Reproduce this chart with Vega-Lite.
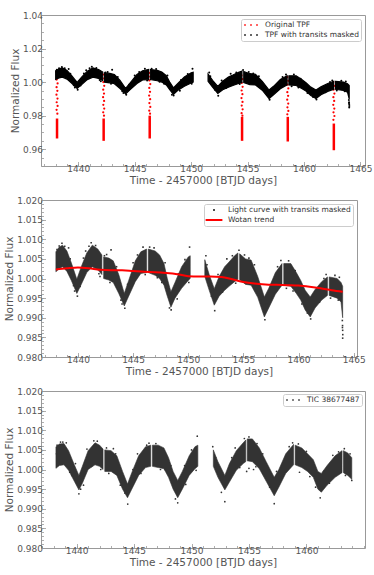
{
"$schema": "https://vega.github.io/schema/vega-lite/v6.json",
"padding": {"left": 4, "top": 10, "right": 2, "bottom": 2},
"background": "white",
"config": {
 "font": "DejaVu Sans",
 "view": {"stroke": "#999999", "strokeWidth": 1},
 "axis": {"labelFont": "DejaVu Sans", "labelFontSize": 9, "labelColor": "#555555", "titleFont": "DejaVu Sans", "titleFontSize": 10.5, "titleColor": "#555555", "titleFontWeight": "normal", "grid": false, "domain": false, "tickColor": "#999999", "tickSize": -4.5, "tickWidth": 0.8, "labelPadding": 3, "titlePadding": 2, "labelFlush": false, "labelOverlap": false},
 "legend": {"labelFont": "DejaVu Sans", "labelFontSize": 7.5, "labelColor": "#333333", "fillColor": "white", "strokeColor": "#cccccc", "cornerRadius": 2, "padding": 2, "rowPadding": 2, "symbolStrokeWidth": 0, "symbolSize": 64, "labelOffset": 10, "symbolOffset": 4, "orient": "top-right", "offset": 4}
},
"datasets": {
 "lc": [
  {"t":1438.0,"hi":1.0068,"lo":1.0017,"s":"1"},{"t":1438.3,"hi":1.0080,"lo":1.0025,"s":"1"},{"t":1438.6,"hi":1.0085,"lo":1.0030,"s":"1"},{"t":1439.0,"hi":1.0070,"lo":1.0018,"s":"1"},{"t":1439.4,"hi":1.0040,"lo":0.9995,"s":"1"},{"t":1439.9,"hi":0.9998,"lo":0.9962,"s":"1"},{"t":1440.3,"hi":1.0030,"lo":0.9985,"s":"1"},{"t":1440.8,"hi":1.0065,"lo":1.0015,"s":"1"},{"t":1441.3,"hi":1.0085,"lo":1.0030,"s":"1"},{"t":1441.8,"hi":1.0075,"lo":1.0022,"s":"1"},{"t":1442.17,"hi":1.0060,"lo":1.0010,"s":"1"},
  {"t":1442.33,"hi":1.0055,"lo":1.0000,"s":"2"},{"t":1442.8,"hi":1.0052,"lo":0.9996,"s":"2"},{"t":1443.2,"hi":1.0045,"lo":0.9990,"s":"2"},{"t":1443.7,"hi":1.0010,"lo":0.9962,"s":"2"},{"t":1444.2,"hi":0.9962,"lo":0.9930,"s":"2"},{"t":1444.6,"hi":0.9995,"lo":0.9955,"s":"2"},{"t":1445.2,"hi":1.0045,"lo":0.9992,"s":"2"},{"t":1445.7,"hi":1.0068,"lo":1.0013,"s":"2"},{"t":1446.22,"hi":1.0075,"lo":1.0015,"s":"2"},
  {"t":1446.38,"hi":1.0075,"lo":1.0015,"s":"3"},{"t":1447.0,"hi":1.0070,"lo":1.0008,"s":"3"},{"t":1447.4,"hi":1.0060,"lo":1.0000,"s":"3"},{"t":1447.8,"hi":1.0038,"lo":0.9983,"s":"3"},{"t":1448.1,"hi":1.0000,"lo":0.9955,"s":"3"},{"t":1448.43,"hi":0.9966,"lo":0.9927,"s":"3"},{"t":1448.8,"hi":0.9990,"lo":0.9950,"s":"3"},{"t":1449.4,"hi":1.0030,"lo":0.9975,"s":"3"},{"t":1450.0,"hi":1.0055,"lo":0.9995,"s":"3"},{"t":1450.18,"hi":1.0058,"lo":1.0000,"s":"3"},
  {"t":1451.5,"hi":1.0048,"lo":1.0005,"s":"4"},{"t":1451.9,"hi":1.0010,"lo":0.9970,"s":"4"},{"t":1452.36,"hi":0.9974,"lo":0.9932,"s":"4"},{"t":1452.8,"hi":1.0005,"lo":0.9955,"s":"4"},{"t":1453.3,"hi":1.0030,"lo":0.9970,"s":"4"},{"t":1453.7,"hi":1.0042,"lo":0.9980,"s":"4"},{"t":1454.2,"hi":1.0058,"lo":0.9992,"s":"4"},{"t":1454.5,"hi":1.0065,"lo":0.9998,"s":"4"},
  {"t":1454.66,"hi":1.0063,"lo":0.9997,"s":"5"},{"t":1455.2,"hi":1.0050,"lo":0.9985,"s":"5"},{"t":1455.7,"hi":1.0047,"lo":0.9983,"s":"5"},{"t":1456.3,"hi":1.0005,"lo":0.9952,"s":"5"},{"t":1456.9,"hi":0.9953,"lo":0.9902,"s":"5"},{"t":1457.3,"hi":0.9975,"lo":0.9925,"s":"5"},{"t":1457.9,"hi":1.0015,"lo":0.9960,"s":"5"},{"t":1458.5,"hi":1.0038,"lo":0.9983,"s":"5"},
  {"t":1458.66,"hi":1.0038,"lo":0.9983,"s":"6"},{"t":1459.3,"hi":1.0038,"lo":0.9980,"s":"6"},{"t":1459.8,"hi":1.0015,"lo":0.9962,"s":"6"},{"t":1460.2,"hi":0.9995,"lo":0.9945,"s":"6"},{"t":1460.6,"hi":0.9970,"lo":0.9920,"s":"6"},{"t":1461.06,"hi":0.9953,"lo":0.9902,"s":"6"},{"t":1461.5,"hi":0.9972,"lo":0.9925,"s":"6"},{"t":1462.1,"hi":0.9992,"lo":0.9945,"s":"6"},{"t":1462.62,"hi":1.0004,"lo":0.9957,"s":"6"},
  {"t":1462.78,"hi":1.0004,"lo":0.9957,"s":"7"},{"t":1463.5,"hi":1.0000,"lo":0.9950,"s":"7"},{"t":1463.85,"hi":0.9990,"lo":0.9940,"s":"7"},{"t":1464.0,"hi":0.9980,"lo":0.9900,"s":"7"}
 ],
 "lcout": [
  {"t":1438.1,"f":1.0074},{"t":1438.55,"f":1.0090},{"t":1439.15,"f":1.0078},{"t":1439.6,"f":0.9982},{"t":1439.95,"f":0.9955},{"t":1440.5,"f":1.0052},{"t":1441.2,"f":1.0091},{"t":1441.9,"f":1.0012},{"t":1442.6,"f":1.0061},{"t":1443.0,"f":1.0073},{"t":1443.9,"f":0.9945},{"t":1444.25,"f":0.9924},{"t":1445.0,"f":1.0040},{"t":1445.9,"f":1.0080},{"t":1446.9,"f":1.0078},{"t":1447.6,"f":0.9990},{"t":1448.45,"f":0.9920},{"t":1449.0,"f":0.9948},{"t":1450.12,"f":1.0080},{"t":1451.6,"f":1.0058},{"t":1452.4,"f":0.9918},{"t":1453.5,"f":1.0050},{"t":1454.6,"f":1.0072},{"t":1455.1,"f":1.0060},{"t":1456.0,"f":1.0035},{"t":1456.95,"f":0.9895},{"t":1457.6,"f":0.9950},{"t":1458.4,"f":1.0046},{"t":1459.1,"f":1.0045},{"t":1459.5,"f":0.9968},{"t":1460.3,"f":0.9935},{"t":1461.1,"f":0.9897},{"t":1461.9,"f":0.9940},{"t":1462.5,"f":1.0010},{"t":1463.3,"f":1.0008},{"t":1463.6,"f":0.9945},{"t":1463.97,"f":0.9893},{"t":1463.99,"f":0.9880},{"t":1464.0,"f":0.9868},{"t":1464.01,"f":0.9857},{"t":1464.0,"f":0.9848},{"t":1463.98,"f":0.9875},
  {"t":1438.3,"f":1.0083},{"t":1438.8,"f":1.0082},{"t":1439.3,"f":1.0050},{"t":1439.7,"f":0.9968},{"t":1440.2,"f":0.9980},{"t":1440.7,"f":1.0070},{"t":1441.0,"f":1.0082},{"t":1441.6,"f":1.0084},{"t":1442.0,"f":1.0005},{"t":1442.4,"f":1.0058},{"t":1442.9,"f":0.9990},{"t":1443.5,"f":1.0030},{"t":1444.0,"f":0.9935},{"t":1444.5,"f":0.9985},{"t":1445.4,"f":1.0060},{"t":1446.1,"f":1.0010},{"t":1446.5,"f":1.0080},{"t":1447.2,"f":1.0002},{"t":1447.9,"f":1.0040},{"t":1448.3,"f":0.9925},{"t":1449.1,"f":1.0012},{"t":1449.7,"f":1.0048},{"t":1450.05,"f":0.9990},{"t":1451.7,"f":1.0035},{"t":1452.1,"f":0.9955},{"t":1452.7,"f":1.0010},{"t":1453.1,"f":0.9965},{"t":1454.0,"f":1.0058},{"t":1454.3,"f":0.9988},{"t":1455.5,"f":1.0052},{"t":1456.6,"f":0.9945},{"t":1457.1,"f":0.9935},{"t":1458.1,"f":1.0030},{"t":1458.9,"f":0.9975},{"t":1459.7,"f":1.0020},{"t":1460.8,"f":0.9912},{"t":1461.3,"f":0.9955},{"t":1462.3,"f":1.0000},{"t":1462.9,"f":0.9950},{"t":1463.7,"f":1.0003}
 ],
 "trend": [
  {"t":1438.0,"f":1.0023},{"t":1439.0,"f":1.0026},{"t":1440.0,"f":1.0028},{"t":1441.0,"f":1.0026},{"t":1442.0,"f":1.0022},{"t":1443.0,"f":1.0021},{"t":1444.0,"f":1.0021},{"t":1445.0,"f":1.0019},{"t":1446.0,"f":1.0017},{"t":1447.0,"f":1.0016},{"t":1448.0,"f":1.0014},{"t":1449.0,"f":1.0011},{"t":1450.0,"f":1.0006},{"t":1451.0,"f":1.0005},{"t":1452.0,"f":1.0005},{"t":1453.0,"f":1.0004},{"t":1454.0,"f":0.9998},{"t":1455.0,"f":0.9991},{"t":1456.0,"f":0.9987},{"t":1457.0,"f":0.9985},{"t":1458.0,"f":0.9984},{"t":1459.0,"f":0.9983},{"t":1460.0,"f":0.9982},{"t":1461.0,"f":0.9979},{"t":1462.0,"f":0.9975},{"t":1463.0,"f":0.9970},{"t":1464.0,"f":0.9966}
 ],
 "trc": [
  {"t":1438.12,"lo":0.9664,"hi":0.9783},{"t":1442.25,"lo":0.9650,"hi":0.9783},{"t":1446.33,"lo":0.9664,"hi":0.9800},{"t":1454.51,"lo":0.9650,"hi":0.9793},{"t":1458.56,"lo":0.9646,"hi":0.9793},{"t":1462.64,"lo":0.9594,"hi":0.9753}
 ],
 "tr": [
  {"t":1438.07,"f":1.0060},{"t":1438.16,"f":1.0038},{"t":1438.09,"f":1.0015},{"t":1438.17,"f":0.9992},{"t":1438.08,"f":0.9970},{"t":1438.15,"f":0.9948},{"t":1438.07,"f":0.9925},{"t":1438.16,"f":0.9902},{"t":1438.09,"f":0.9880},{"t":1438.17,"f":0.9858},{"t":1438.08,"f":0.9835},{"t":1438.15,"f":0.9812},
  {"t":1442.2,"f":1.0045},{"t":1442.29,"f":1.0022},{"t":1442.22,"f":1.0000},{"t":1442.3,"f":0.9978},{"t":1442.21,"f":0.9955},{"t":1442.28,"f":0.9932},{"t":1442.2,"f":0.9910},{"t":1442.29,"f":0.9888},{"t":1442.22,"f":0.9865},{"t":1442.3,"f":0.9842},{"t":1442.21,"f":0.9820},{"t":1442.28,"f":0.9800},
  {"t":1446.28,"f":1.0055},{"t":1446.37,"f":1.0032},{"t":1446.3,"f":1.0010},{"t":1446.38,"f":0.9988},{"t":1446.29,"f":0.9965},{"t":1446.36,"f":0.9942},{"t":1446.28,"f":0.9920},{"t":1446.37,"f":0.9898},{"t":1446.3,"f":0.9875},{"t":1446.38,"f":0.9852},{"t":1446.29,"f":0.9830},{"t":1446.36,"f":0.9812},
  {"t":1454.46,"f":1.0040},{"t":1454.55,"f":1.0018},{"t":1454.48,"f":0.9995},{"t":1454.56,"f":0.9972},{"t":1454.47,"f":0.9950},{"t":1454.54,"f":0.9928},{"t":1454.46,"f":0.9905},{"t":1454.55,"f":0.9882},{"t":1454.48,"f":0.9860},{"t":1454.56,"f":0.9838},{"t":1454.47,"f":0.9815},{"t":1454.54,"f":0.9800},
  {"t":1458.51,"f":1.0030},{"t":1458.6,"f":1.0008},{"t":1458.53,"f":0.9985},{"t":1458.61,"f":0.9962},{"t":1458.52,"f":0.9940},{"t":1458.59,"f":0.9918},{"t":1458.51,"f":0.9895},{"t":1458.6,"f":0.9872},{"t":1458.53,"f":0.9850},{"t":1458.61,"f":0.9828},{"t":1458.52,"f":0.9808},
  {"t":1462.59,"f":1.0000},{"t":1462.68,"f":0.9978},{"t":1462.61,"f":0.9955},{"t":1462.69,"f":0.9932},{"t":1462.6,"f":0.9910},{"t":1462.67,"f":0.9888},{"t":1462.59,"f":0.9865},{"t":1462.68,"f":0.9842},{"t":1462.61,"f":0.9820},{"t":1462.69,"f":0.9798},{"t":1462.6,"f":0.9775}
 ],
 "tic": [
  {"t":1438.2,"hi":1.0058,"lo":1.0003,"s":"1"},{"t":1438.5,"hi":1.0065,"lo":1.0010,"s":"1"},{"t":1438.9,"hi":1.0066,"lo":1.0012,"s":"1"},{"t":1439.3,"hi":1.0048,"lo":0.9998,"s":"1"},{"t":1439.8,"hi":1.0012,"lo":0.9970,"s":"1"},{"t":1440.2,"hi":0.9985,"lo":0.9948,"s":"1"},{"t":1440.5,"hi":1.0008,"lo":0.9965,"s":"1"},{"t":1441.0,"hi":1.0048,"lo":1.0000,"s":"1"},{"t":1441.6,"hi":1.0068,"lo":1.0012,"s":"1"},{"t":1442.0,"hi":1.0062,"lo":1.0008,"s":"1"},{"t":1442.3,"hi":1.0052,"lo":1.0000,"s":"1"},
  {"t":1442.45,"hi":1.0050,"lo":0.9995,"s":"2"},{"t":1443.0,"hi":1.0048,"lo":0.9995,"s":"2"},{"t":1443.5,"hi":1.0035,"lo":0.9985,"s":"2"},{"t":1444.0,"hi":0.9995,"lo":0.9950,"s":"2"},{"t":1444.43,"hi":0.9963,"lo":0.9928,"s":"2"},{"t":1444.8,"hi":0.9992,"lo":0.9950,"s":"2"},{"t":1445.4,"hi":1.0035,"lo":0.9985,"s":"2"},{"t":1446.0,"hi":1.0058,"lo":1.0005,"s":"2"},{"t":1446.45,"hi":1.0062,"lo":1.0008,"s":"2"},
  {"t":1446.6,"hi":1.0062,"lo":1.0008,"s":"3"},{"t":1447.1,"hi":1.0062,"lo":1.0005,"s":"3"},{"t":1447.6,"hi":1.0055,"lo":1.0002,"s":"3"},{"t":1448.0,"hi":1.0030,"lo":0.9980,"s":"3"},{"t":1448.4,"hi":0.9995,"lo":0.9950,"s":"3"},{"t":1448.8,"hi":0.9972,"lo":0.9928,"s":"3"},{"t":1449.2,"hi":0.9995,"lo":0.9950,"s":"3"},{"t":1449.8,"hi":1.0035,"lo":0.9985,"s":"3"},{"t":1450.3,"hi":1.0058,"lo":1.0002,"s":"3"},{"t":1450.55,"hi":1.0062,"lo":1.0008,"s":"3"},
  {"t":1451.9,"hi":1.0050,"lo":1.0008,"s":"4"},{"t":1452.3,"hi":1.0020,"lo":0.9980,"s":"4"},{"t":1452.9,"hi":0.9985,"lo":0.9948,"s":"4"},{"t":1453.3,"hi":1.0015,"lo":0.9968,"s":"4"},{"t":1453.9,"hi":1.0048,"lo":0.9998,"s":"4"},{"t":1454.5,"hi":1.0068,"lo":1.0015,"s":"4"},{"t":1454.72,"hi":1.0075,"lo":1.0020,"s":"4"},
  {"t":1454.85,"hi":1.0078,"lo":1.0022,"s":"5"},{"t":1455.3,"hi":1.0078,"lo":1.0020,"s":"5"},{"t":1455.9,"hi":1.0055,"lo":1.0002,"s":"5"},{"t":1456.5,"hi":1.0020,"lo":0.9970,"s":"5"},{"t":1457.2,"hi":0.9980,"lo":0.9933,"s":"5"},{"t":1457.6,"hi":1.0000,"lo":0.9955,"s":"5"},{"t":1458.2,"hi":1.0040,"lo":0.9990,"s":"5"},{"t":1458.88,"hi":1.0064,"lo":1.0012,"s":"5"},
  {"t":1459.02,"hi":1.0062,"lo":1.0012,"s":"6"},{"t":1459.6,"hi":1.0055,"lo":1.0005,"s":"6"},{"t":1460.1,"hi":1.0040,"lo":0.9995,"s":"6"},{"t":1460.6,"hi":1.0025,"lo":0.9980,"s":"6"},{"t":1461.0,"hi":0.9995,"lo":0.9950,"s":"6"},{"t":1461.3,"hi":0.9990,"lo":0.9942,"s":"6"},{"t":1461.8,"hi":1.0010,"lo":0.9960,"s":"6"},{"t":1462.5,"hi":1.0035,"lo":0.9980,"s":"6"},{"t":1463.1,"hi":1.0048,"lo":0.9992,"s":"6"},
  {"t":1463.22,"hi":1.0048,"lo":0.9992,"s":"7"},{"t":1463.6,"hi":1.0042,"lo":0.9985,"s":"7"},{"t":1463.95,"hi":1.0030,"lo":0.9975,"s":"7"}
 ],
 "ticout": [
  {"t":1438.25,"f":1.0040},{"t":1438.6,"f":1.0070},{"t":1439.1,"f":1.0068},{"t":1439.6,"f":0.9985},{"t":1440.2,"f":0.9938},{"t":1440.35,"f":0.9950},{"t":1441.5,"f":1.0073},{"t":1442.1,"f":1.0000},{"t":1442.6,"f":1.0055},{"t":1443.2,"f":1.0053},{"t":1443.8,"f":0.9960},{"t":1444.45,"f":0.9912},{"t":1445.3,"f":1.0040},{"t":1446.3,"f":1.0067},{"t":1446.9,"f":1.0066},{"t":1447.7,"f":1.0000},{"t":1448.8,"f":0.9915},{"t":1449.5,"f":0.9962},{"t":1450.5,"f":1.0085},{"t":1451.85,"f":1.0058},{"t":1452.9,"f":0.9918},{"t":1453.8,"f":1.0055},{"t":1454.6,"f":1.0079},{"t":1455.0,"f":1.0083},{"t":1455.4,"f":1.0000},{"t":1455.0,"f":1.0003},{"t":1454.8,"f":0.9995},{"t":1455.6,"f":1.0007},{"t":1456.3,"f":1.0025},{"t":1457.2,"f":0.9913},{"t":1458.8,"f":1.0068},{"t":1459.4,"f":0.9993},{"t":1460.3,"f":0.9982},{"t":1461.2,"f":0.9928},{"t":1462.3,"f":1.0036},{"t":1463.3,"f":1.0053},{"t":1463.95,"f":0.9972},
  {"t":1438.3,"f":1.0062},{"t":1438.8,"f":1.0070},{"t":1439.4,"f":0.9993},{"t":1439.9,"f":1.0015},{"t":1440.6,"f":0.9960},{"t":1440.9,"f":1.0052},{"t":1441.3,"f":1.0008},{"t":1441.8,"f":1.0072},{"t":1442.8,"f":0.9990},{"t":1443.4,"f":1.0040},{"t":1444.2,"f":0.9940},{"t":1444.9,"f":1.0000},{"t":1445.6,"f":0.9990},{"t":1446.1,"f":1.0062},{"t":1447.3,"f":1.0000},{"t":1448.2,"f":1.0010},{"t":1448.6,"f":0.9925},{"t":1449.4,"f":1.0010},{"t":1450.0,"f":1.0050},{"t":1450.4,"f":0.9998},{"t":1452.1,"f":1.0030},{"t":1452.6,"f":0.9942},{"t":1453.5,"f":1.0030},{"t":1454.2,"f":1.0005},{"t":1455.7,"f":1.0066},{"t":1456.2,"f":1.0040},{"t":1456.8,"f":0.9955},{"t":1457.4,"f":0.9995},{"t":1458.5,"f":1.0058},{"t":1459.3,"f":1.0065},{"t":1460.0,"f":1.0046},{"t":1460.8,"f":0.9955},{"t":1461.5,"f":0.9995},{"t":1462.0,"f":0.9965},{"t":1462.8,"f":1.0045},{"t":1463.4,"f":0.9985},{"t":1463.8,"f":1.0040}
 ]
},
"concat": [
 {
  "width": 324, "height": 151,
  "layer": [
   {"data": {"name": "trc"}, "mark": {"type": "rule", "color": "#ff0000", "strokeWidth": 2.5},
    "encoding": {
     "x": {"field": "t", "type": "quantitative", "scale": {"domain": [1436.7, 1465.4], "nice": false, "zero": false}, "axis": null},
     "y": {"field": "lo", "type": "quantitative", "scale": {"domain": [0.95, 1.04], "nice": false, "zero": false}, "axis": null},
     "y2": {"field": "hi"}}},
   {"data": {"name": "tr"}, "mark": {"type": "point", "filled": true, "size": 5, "opacity": 1},
    "encoding": {
     "x": {"field": "t", "type": "quantitative", "scale": {"domain": [1436.7, 1465.4], "nice": false, "zero": false}, "axis": null},
     "y": {"field": "f", "type": "quantitative", "scale": {"domain": [0.95, 1.04], "nice": false, "zero": false}, "axis": null},
     "color": {"datum": "Original TPF", "type": "nominal", "scale": {"domain": ["Original TPF", "TPF with transits masked"], "range": ["#ff0000", "#000000"]}, "legend": {"title": null, "symbolType": "M-1.7,-0.2h0.4v0.4h-0.4zM-0.2,-0.2h0.4v0.4h-0.4zM1.3,-0.2h0.4v0.4h-0.4z", "offset": 4}}}},
   {"data": {"name": "lc"}, "mark": {"type": "area", "color": "#000000", "stroke": "#000000", "strokeWidth": 1.2},
    "encoding": {
     "x": {"field": "t", "type": "quantitative", "scale": {"domain": [1436.7, 1465.4], "nice": false, "zero": false}, "axis": {"orient": "bottom", "values": [1440, 1445, 1450, 1455, 1460, 1465], "format": "d", "title": "Time - 2457000 [BTJD days]"}},
     "y": {"field": "hi", "type": "quantitative", "scale": {"domain": [0.95, 1.04], "nice": false, "zero": false}, "axis": {"orient": "left", "values": [0.96, 0.98, 1.0, 1.02, 1.04], "format": ".2f", "title": "Normalized Flux"}},
     "y2": {"field": "lo"},
     "detail": {"field": "s", "type": "nominal"}}},
   {"data": {"name": "lcout"}, "mark": {"type": "point", "filled": true, "size": 4, "opacity": 1},
    "encoding": {
     "x": {"field": "t", "type": "quantitative", "scale": {"domain": [1436.7, 1465.4], "nice": false, "zero": false}, "axis": {"orient": "bottom", "values": [1437,1438,1439,1440,1441,1442,1443,1444,1445,1446,1447,1448,1449,1450,1451,1452,1453,1454,1455,1456,1457,1458,1459,1460,1461,1462,1463,1464,1465], "labels": false, "title": null, "tickSize": -2.5}},
     "y": {"field": "f", "type": "quantitative", "scale": {"domain": [0.95, 1.04], "nice": false, "zero": false}, "axis": {"orient": "left", "values": [0.95,0.955,0.96,0.965,0.97,0.975,0.98,0.985,0.99,0.995,1.0,1.005,1.01,1.015,1.02,1.025,1.03,1.035,1.04], "labels": false, "title": null, "tickSize": -2.5}},
     "color": {"datum": "TPF with transits masked", "type": "nominal"}}}
  ],
  "resolve": {"axis": {"x": "independent", "y": "independent"}}
 },
 {
  "width": 316, "height": 157,
  "layer": [
   {"data": {"name": "lc"}, "mark": {"type": "area", "color": "#333333", "stroke": "#333333", "strokeWidth": 0.6},
    "encoding": {
     "x": {"field": "t", "type": "quantitative", "scale": {"domain": [1436.65, 1465.3], "nice": false, "zero": false}, "axis": {"orient": "bottom", "values": [1440, 1445, 1450, 1455, 1460, 1465], "format": "d", "title": "Time - 2457000 [BTJD days]"}},
     "y": {"field": "hi", "type": "quantitative", "scale": {"domain": [0.98, 1.02], "nice": false, "zero": false}, "axis": {"orient": "left", "values": [0.98, 0.985, 0.99, 0.995, 1.0, 1.005, 1.01, 1.015, 1.02], "format": ".3f", "title": "Normalized Flux"}},
     "y2": {"field": "lo"},
     "detail": {"field": "s", "type": "nominal"}}},
   {"data": {"name": "lcout"}, "mark": {"type": "point", "filled": true, "size": 52, "opacity": 1},
    "encoding": {
     "x": {"field": "t", "type": "quantitative", "scale": {"domain": [1436.65, 1465.3], "nice": false, "zero": false}, "axis": {"orient": "bottom", "values": [1437,1438,1439,1440,1441,1442,1443,1444,1445,1446,1447,1448,1449,1450,1451,1452,1453,1454,1455,1456,1457,1458,1459,1460,1461,1462,1463,1464,1465], "labels": false, "title": null, "tickSize": -2.5}},
     "y": {"field": "f", "type": "quantitative", "scale": {"domain": [0.98, 1.02], "nice": false, "zero": false}, "axis": {"orient": "left", "values": [0.98,0.981,0.982,0.983,0.984,0.985,0.986,0.987,0.988,0.989,0.99,0.991,0.992,0.993,0.994,0.995,0.996,0.997,0.998,0.999,1.0,1.001,1.002,1.003,1.004,1.005,1.006,1.007,1.008,1.009,1.01,1.011,1.012,1.013,1.014,1.015,1.016,1.017,1.018,1.019,1.02], "labels": false, "title": null, "tickSize": -2.5}},
     "color": {"datum": "Light curve with transits masked", "type": "nominal", "scale": {"domain": ["Light curve with transits masked", "Wotan trend"], "range": ["#333333", "#ff0000"]}, "legend": {"title": null, "offset": 4}},
     "shape": {"datum": "Light curve with transits masked", "type": "nominal", "scale": {"domain": ["Light curve with transits masked", "Wotan trend"], "range": ["M-0.22,-0.22h0.44v0.44h-0.44z", "M-2.1,-0.25h4.2v0.5h-4.2z"]}, "legend": {"title": null, "offset": 4}}}},
   {"data": {"name": "trend"}, "mark": {"type": "line", "color": "#ff0000", "strokeWidth": 2, "interpolate": "monotone"},
    "encoding": {
     "x": {"field": "t", "type": "quantitative", "scale": {"domain": [1436.65, 1465.3], "nice": false, "zero": false}, "axis": null},
     "y": {"field": "f", "type": "quantitative", "scale": {"domain": [0.98, 1.02], "nice": false, "zero": false}, "axis": null}}}
  ],
  "resolve": {"axis": {"x": "independent", "y": "independent"}}
 },
 {
  "width": 324, "height": 157,
  "layer": [
   {"data": {"name": "tic"}, "mark": {"type": "area", "color": "#333333", "stroke": "#333333", "strokeWidth": 0.6},
    "encoding": {
     "x": {"field": "t", "type": "quantitative", "scale": {"domain": [1436.9, 1465.1], "nice": false, "zero": false}, "axis": {"orient": "bottom", "values": [1440, 1445, 1450, 1455, 1460], "format": "d", "title": "Time - 2457000 [BTJD days]"}},
     "y": {"field": "hi", "type": "quantitative", "scale": {"domain": [0.98, 1.02], "nice": false, "zero": false}, "axis": {"orient": "left", "values": [0.98, 0.985, 0.99, 0.995, 1.0, 1.005, 1.01, 1.015, 1.02], "format": ".3f", "title": "Normalized Flux"}},
     "y2": {"field": "lo"},
     "detail": {"field": "s", "type": "nominal"}}},
   {"data": {"name": "ticout"}, "mark": {"type": "point", "filled": true, "size": 3, "opacity": 1},
    "encoding": {
     "x": {"field": "t", "type": "quantitative", "scale": {"domain": [1436.9, 1465.1], "nice": false, "zero": false}, "axis": {"orient": "bottom", "values": [1437,1438,1439,1440,1441,1442,1443,1444,1445,1446,1447,1448,1449,1450,1451,1452,1453,1454,1455,1456,1457,1458,1459,1460,1461,1462,1463,1464,1465], "labels": false, "title": null, "tickSize": -2.5}},
     "y": {"field": "f", "type": "quantitative", "scale": {"domain": [0.98, 1.02], "nice": false, "zero": false}, "axis": {"orient": "left", "values": [0.98,0.981,0.982,0.983,0.984,0.985,0.986,0.987,0.988,0.989,0.99,0.991,0.992,0.993,0.994,0.995,0.996,0.997,0.998,0.999,1.0,1.001,1.002,1.003,1.004,1.005,1.006,1.007,1.008,1.009,1.01,1.011,1.012,1.013,1.014,1.015,1.016,1.017,1.018,1.019,1.02], "labels": false, "title": null, "tickSize": -2.5}},
     "color": {"datum": "TIC 38677487", "type": "nominal", "scale": {"domain": ["TIC 38677487"], "range": ["#333333"]}, "legend": {"title": null, "symbolType": "M-1.7,-0.2h0.4v0.4h-0.4zM-0.2,-0.2h0.4v0.4h-0.4zM1.3,-0.2h0.4v0.4h-0.4z", "offset": 3}}}}
  ],
  "resolve": {"axis": {"x": "independent", "y": "independent"}}
 }
],
"columns": 1,
"align": "none",
"spacing": 8,
"resolve": {"scale": {"color": "independent", "shape": "independent"}, "legend": {"color": "independent", "shape": "independent"}}
}
